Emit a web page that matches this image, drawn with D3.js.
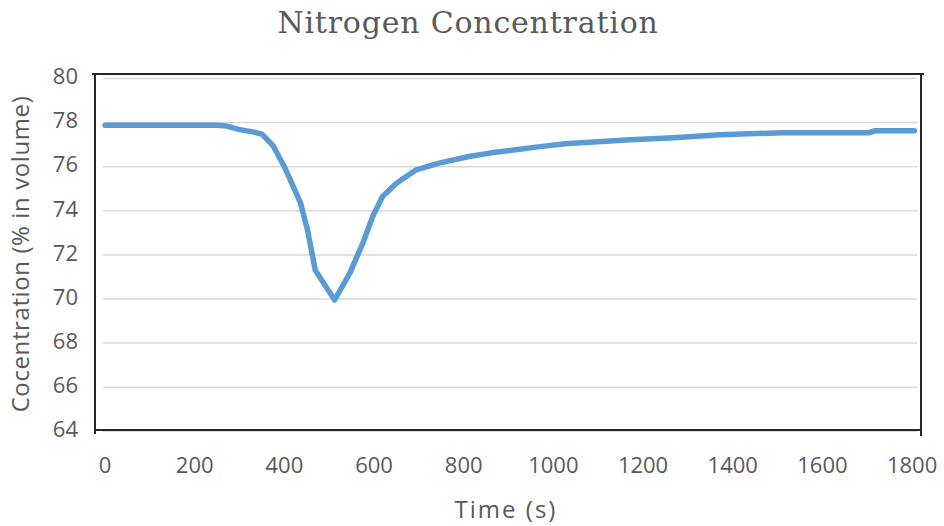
<!DOCTYPE html>
<html><head><meta charset="utf-8">
<script src="https://cdn.jsdelivr.net/npm/d3@7"></script>
<style>body{margin:0;background:#fff}svg{display:block}</style>
</head><body>
<svg id="c" width="944" height="526"></svg>
<script>
const title = "Nitrogen Concentration";
const xTitle = "Time (s)";
const yTitle = "Cocentration (% in volume)";
const xTicks = [0, 200, 400, 600, 800, 1000, 1200, 1400, 1600, 1800];
const yTicks = [64, 66, 68, 70, 72, 74, 76, 78, 80];
const times  = [0, 50, 100, 150, 200, 250, 270, 300, 330, 350, 375, 400, 420, 436, 452, 469, 490, 512, 530, 546, 575, 597, 619, 650, 694, 745, 812, 871, 916, 966, 1026, 1099, 1172, 1269, 1371, 1513, 1703, 1718, 1805];
const values = [77.88, 77.88, 77.88, 77.88, 77.88, 77.88, 77.85, 77.68, 77.58, 77.48, 76.95, 76.0, 75.1, 74.36, 73.1, 71.3, 70.65, 69.96, 70.6, 71.17, 72.53, 73.74, 74.65, 75.25, 75.86, 76.16, 76.46, 76.66, 76.77, 76.9, 77.04, 77.13, 77.22, 77.31, 77.45, 77.54, 77.54, 77.63, 77.63];

const svg = d3.select("#c");
const x = d3.scaleLinear().domain([-4.5, 1811]).range([103, 917]);
const y = d3.scaleLinear().domain([64, 80]).range([431.3, 78.5]);

// gridlines
svg.append("g").selectAll("line").data(yTicks).join("line")
  .attr("x1", x.range()[0]).attr("x2", x.range()[1])
  .attr("y1", d => y(d)).attr("y2", d => y(d))
  .attr("stroke", "#d9d9d9").attr("stroke-width", 1.5);

// frame
const fr = {l: 95, r: 921, t: 74, b: 430};
const frame = svg.append("g").attr("stroke", "#262626").attr("stroke-width", 2);
frame.append("line").attr("x1", fr.l - 3).attr("x2", fr.r + 3).attr("y1", fr.t).attr("y2", fr.t);
frame.append("line").attr("x1", fr.l).attr("x2", fr.r).attr("y1", fr.b).attr("y2", fr.b);
frame.append("line").attr("x1", fr.l).attr("x2", fr.l).attr("y1", fr.t).attr("y2", fr.b + 4);
frame.append("line").attr("x1", fr.r).attr("x2", fr.r).attr("y1", fr.t).attr("y2", fr.b + 6);

// y tick labels
svg.append("g").selectAll("text").data(yTicks).join("text")
  .attr("x", 78).attr("y", d => y(d) - 2).attr("dy", "0.35em")
  .attr("text-anchor", "end")
  .attr("font-family", "'Open Sans', sans-serif").attr("font-size", 22)
  .attr("fill", "#595959").text(d => d);

// x tick labels
svg.append("g").selectAll("text").data(xTicks).join("text")
  .attr("x", d => x(d)).attr("y", 473)
  .attr("text-anchor", "middle")
  .attr("font-family", "'Open Sans', sans-serif").attr("font-size", 22)
  .attr("fill", "#595959").text(d => d);

// line
const data = times.map((t, i) => [t, values[i]]);
svg.append("path").datum(data)
  .attr("d", d3.line().x(d => x(d[0])).y(d => y(d[1])))
  .attr("fill", "none").attr("stroke", "#5b9bd5").attr("stroke-width", 5.5)
  .attr("stroke-linejoin", "round").attr("stroke-linecap", "round");

// titles
svg.append("text").attr("x", 468).attr("y", 33).attr("text-anchor", "middle")
  .attr("font-family", "'DejaVu Serif', serif").attr("font-size", 30)
  .attr("letter-spacing", 0.8)
  .attr("fill", "#595959").text(title);
svg.append("text").attr("x", 506).attr("y", 518).attr("text-anchor", "middle")
  .attr("font-family", "'Open Sans', sans-serif").attr("font-size", 24)
  .attr("letter-spacing", 2)
  .attr("fill", "#595959").text(xTitle);
svg.append("text").attr("transform", "translate(29,254) rotate(-90)").attr("text-anchor", "middle")
  .attr("font-family", "'Open Sans', sans-serif").attr("font-size", 24)
  .attr("letter-spacing", 0.6)
  .attr("fill", "#595959").text(yTitle);
</script>
</body></html>
